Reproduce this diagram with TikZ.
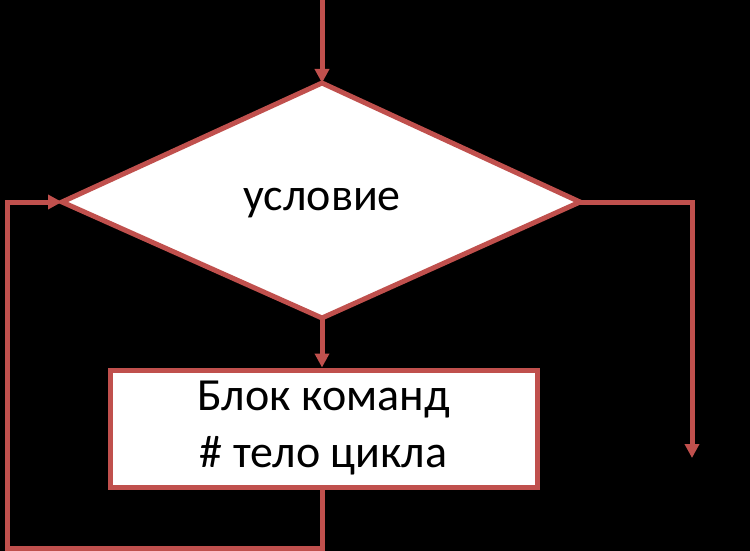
\documentclass[tikz,border=0pt]{standalone}
\usepackage{fontspec}
\setmainfont{Carlito}
\usetikzlibrary{shapes.geometric,arrows.meta}
\definecolor{lc}{HTML}{C0504D}
\begin{document}
\begin{tikzpicture}[x=1pt,y=-1pt,
  ln/.style={draw=lc,line width=5pt},
  arr/.style={ln,-{Triangle[length=14pt,width=14pt]}}]
\fill[black] (0,0) rectangle (750,551);
\useasboundingbox (0,0) rectangle (750,551);
\coordinate (top) at (322,0);
\draw[ln,fill=white] (62,202) -- (322,83) -- (580,202) -- (322,318) -- cycle;
\coordinate (dl) at (62,202);
\coordinate (dr) at (580,202);
\coordinate (dt) at (322,83);
\coordinate (db) at (322,318);
\node[font=\fontsize{46}{50}\selectfont] (cond) at (322,203) {условие};
\node[ln,fill=white,minimum width=427pt,minimum height=117pt,inner sep=0pt,align=center,
  font=\fontsize{46}{57}\selectfont] (box) at (323.5,428.5)
  {Блок команд\\ \# тело цикла};
\coordinate (out) at (692,458);
\draw[arr] (top) -- (dt);
\draw[arr] (db) -- (db |- box.north);
\draw[arr] (db |- box.south) -- (322,548) -- (7,548) -- (7,202) -- (dl);
\draw[arr] (dr) -- (692,202) -- (out);
\end{tikzpicture}
\end{document}
